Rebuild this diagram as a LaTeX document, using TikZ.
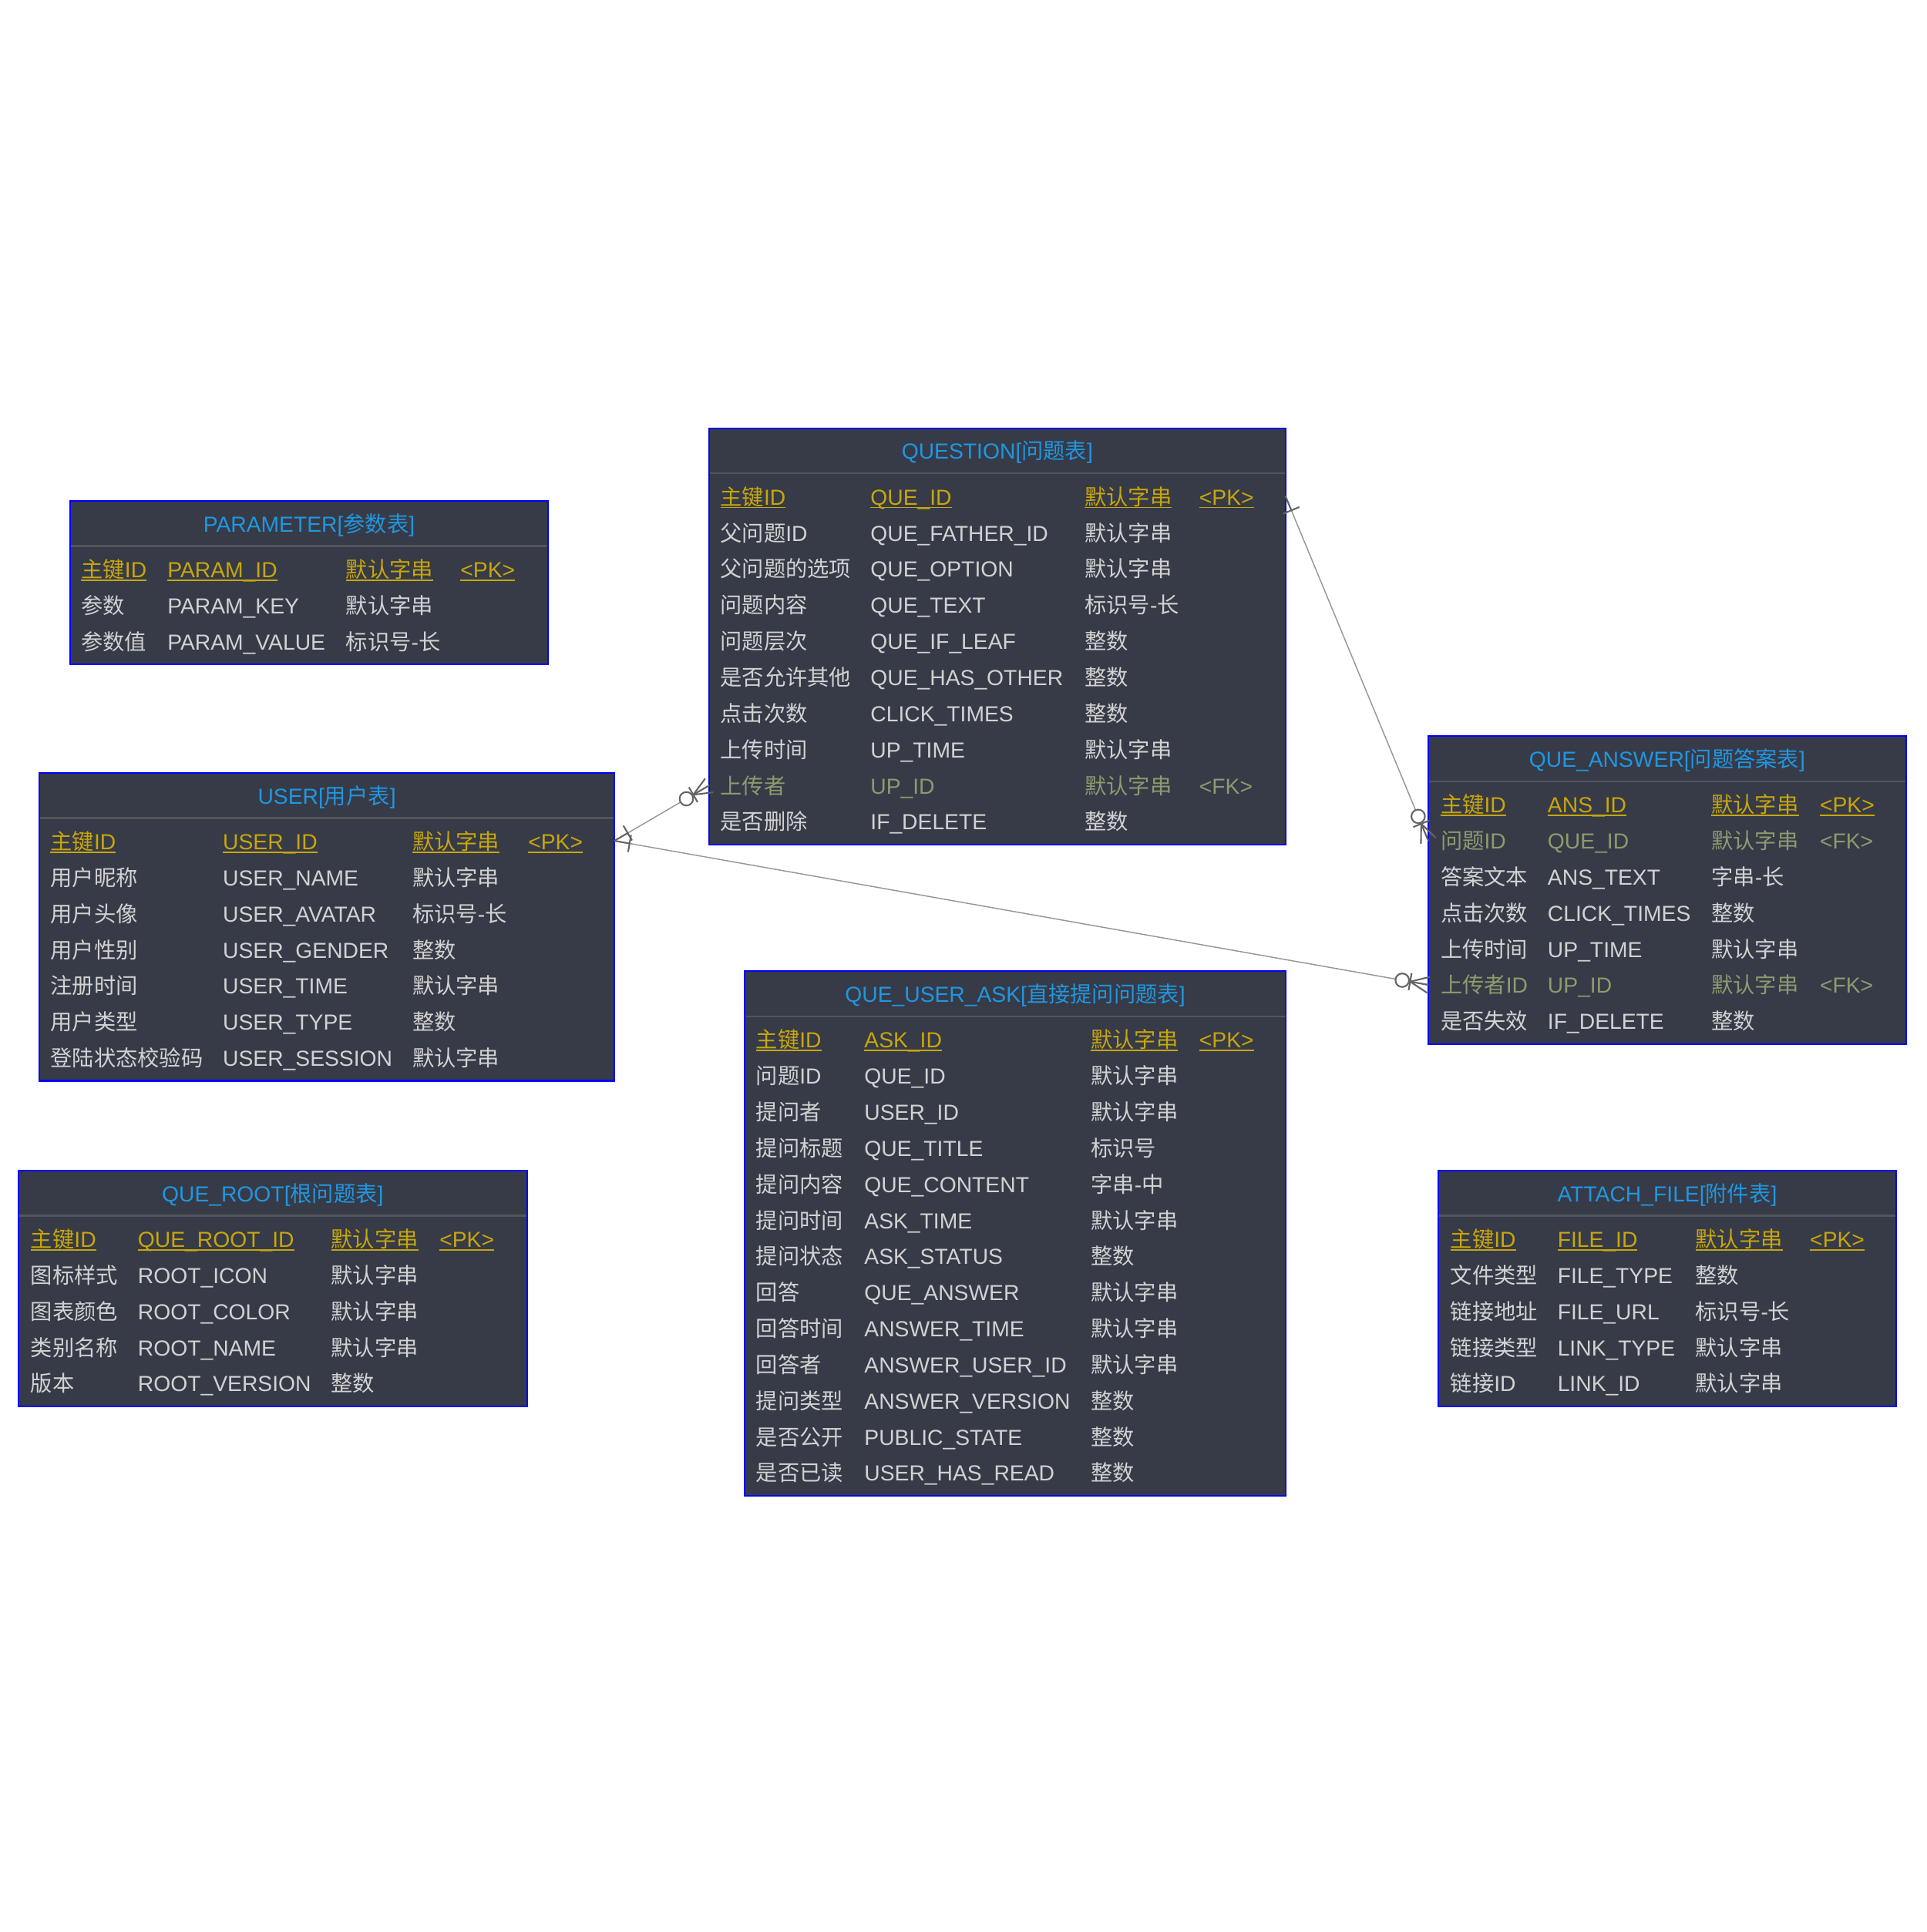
\documentclass[tikz,border=0pt]{standalone}
\usepackage{fontspec}
\setmainfont{Liberation Sans}
\newfontfamily\cjkfont{Noto Sans CJK SC}
\newcommand\zh[1]{{\cjkfont #1}}
\usetikzlibrary{calc}

\definecolor{tblbg}{RGB}{54,59,71}
\definecolor{tblborder}{RGB}{0,0,255}
\definecolor{sepgray}{RGB}{82,85,92}
\definecolor{ttlblue}{RGB}{33,150,225}
\definecolor{pkgold}{RGB}{200,166,12}
\definecolor{fkolive}{RGB}{142,154,110}
\definecolor{celltext}{RGB}{210,210,210}
\definecolor{conngray}{RGB}{150,150,150}
\definecolor{markgray}{RGB}{100,100,100}

\tikzset{
  tblbox/.style={draw=tblborder, fill=tblbg, line width=1.3pt, inner sep=0pt, outer sep=0pt, rectangle},
  sepline/.style={draw=sepgray, line width=1.3pt},
  cell/.style={inner sep=0pt, outer sep=0pt, font=\fontsize{17.7}{20}\selectfont, text=celltext, anchor=base west},
  pkcell/.style={cell, text=pkgold},
  fkcell/.style={cell, text=fkolive},
  ttl/.style={inner sep=0pt, outer sep=0pt, font=\fontsize{17.7}{20}\selectfont, text=ttlblue, anchor=base},
  pkline/.style={draw=pkgold, line width=1.2pt},
  conn/.style={draw=conngray, line width=0.9pt},
  ermark/.style={draw=markgray, line width=1.3pt},
}

\newcommand\ertable[6]{%
  \pgfmathsetmacro\tblh{74+(#5-1)*29.33}%
  \node[tblbox, minimum width=#3-#2, minimum height=\tblh, anchor=north west] (#1) at (#2,#4) {};
  \draw[sepline] ([xshift=0.7pt,yshift=-36.5pt]#1.north west) -- ([xshift=-0.7pt,yshift=-36.5pt]#1.north east);
  \node[ttl] (#1-title) at ({(#2+#3)/2},#4+25) {#6};
  \gdef\curtop{#4}\gdef\currow{0}\gdef\curname{#1}%
}
\newcommand\setcols[4]{\gdef\ca{#1}\gdef\cb{#2}\gdef\cc{#3}\gdef\cd{#4}}
\newcommand\errow[5][cell]{%
  \pgfmathsetmacro\rowy{\curtop+62.2+\currow*29.33}%
  \pgfmathtruncatemacro\rownum{\currow+1}%
  \xdef\currow{\rownum}%
  \node[#1] (\curname-\currow-a) at (\ca,\rowy) {#2};
  \node[#1] (\curname-\currow-b) at (\cb,\rowy) {#3};
  \node[#1] (\curname-\currow-c) at (\cc,\rowy) {#4};
  \def\tmpcell{#5}\ifx\tmpcell\empty\else\node[#1] (\curname-\currow-d) at (\cd,\rowy) {#5};\fi
}
\newcommand\ul[1]{\draw[pkline] ([yshift=-2pt]#1.base west) -- ([yshift=-2pt]#1.base east);}
\newcommand\pkrow[4]{\errow[pkcell]{#1}{#2}{#3}{#4}%
  \ul{\curname-\currow-a}\ul{\curname-\currow-b}\ul{\curname-\currow-c}\ul{\curname-\currow-d}}
\newcommand\fkrow[4]{\errow[fkcell]{#1}{#2}{#3}{#4}}

\newcommand\erone[3]{%
  \coordinate (#3-p) at ($(#1)!12.5pt!(#2)$);
  \draw[ermark] (#1) -- (#3-p);
  \draw[ermark] ($(#3-p)!7pt!90:(#2)$) -- ($(#3-p)!7pt!-90:(#2)$);
}
\newcommand\erzeromany[3]{%
  \coordinate (#3-p) at ($(#1)!15pt!(#2)$);
  \coordinate (#3-o) at ($(#1)!21.5pt!(#2)$);
  \draw[ermark] (#3-p) -- (#1);
  \draw[ermark] (#3-p) -- ($(#1)!6.5pt!90:(#2)$);
  \draw[ermark] (#3-p) -- ($(#1)!6.5pt!-90:(#2)$);
  \draw[ermark] ($(#3-p)!7pt!90:(#2)$) -- ($(#3-p)!7pt!-90:(#2)$);
  \draw[ermark, fill=white] (#3-o) circle[radius=5.5pt];
}

\begin{document}
\begin{tikzpicture}[x=1pt,y=-1pt]
\fill[white] (0,0) rectangle (1565,1569.4);
\useasboundingbox (0,0) rectangle (1565,1569.4);

% PARAMETER
\ertable{param}{57}{445}{407}{3}{PARAMETER[\zh{参数表}]}
\setcols{66}{136}{281}{374}
\pkrow{\zh{主键}ID}{PARAM\_ID}{\zh{默认字串}}{<PK>}
\errow{\zh{参数}}{PARAM\_KEY}{\zh{默认字串}}{}
\errow{\zh{参数值}}{PARAM\_VALUE}{\zh{标识号}-\zh{长}}{}

% USER
\ertable{user}{32}{499}{628}{7}{USER[\zh{用户表}]}
\setcols{41}{181}{335}{429}
\pkrow{\zh{主键}ID}{USER\_ID}{\zh{默认字串}}{<PK>}
\errow{\zh{用户昵称}}{USER\_NAME}{\zh{默认字串}}{}
\errow{\zh{用户头像}}{USER\_AVATAR}{\zh{标识号}-\zh{长}}{}
\errow{\zh{用户性别}}{USER\_GENDER}{\zh{整数}}{}
\errow{\zh{注册时间}}{USER\_TIME}{\zh{默认字串}}{}
\errow{\zh{用户类型}}{USER\_TYPE}{\zh{整数}}{}
\errow{\zh{登陆状态校验码}}{USER\_SESSION}{\zh{默认字串}}{}

% QUE_ROOT
\ertable{root}{15}{428}{951}{5}{QUE\_ROOT[\zh{根问题表}]}
\setcols{25}{112}{269}{357}
\pkrow{\zh{主键}ID}{QUE\_ROOT\_ID}{\zh{默认字串}}{<PK>}
\errow{\zh{图标样式}}{ROOT\_ICON}{\zh{默认字串}}{}
\errow{\zh{图表颜色}}{ROOT\_COLOR}{\zh{默认字串}}{}
\errow{\zh{类别名称}}{ROOT\_NAME}{\zh{默认字串}}{}
\errow{\zh{版本}}{ROOT\_VERSION}{\zh{整数}}{}

% QUESTION
\ertable{question}{576}{1044}{348}{10}{QUESTION[\zh{问题表}]}
\setcols{585}{707}{881}{974}
\pkrow{\zh{主键}ID}{QUE\_ID}{\zh{默认字串}}{<PK>}
\errow{\zh{父问题}ID}{QUE\_FATHER\_ID}{\zh{默认字串}}{}
\errow{\zh{父问题的选项}}{QUE\_OPTION}{\zh{默认字串}}{}
\errow{\zh{问题内容}}{QUE\_TEXT}{\zh{标识号}-\zh{长}}{}
\errow{\zh{问题层次}}{QUE\_IF\_LEAF}{\zh{整数}}{}
\errow{\zh{是否允许其他}}{QUE\_HAS\_OTHER}{\zh{整数}}{}
\errow{\zh{点击次数}}{CLICK\_TIMES}{\zh{整数}}{}
\errow{\zh{上传时间}}{UP\_TIME}{\zh{默认字串}}{}
\fkrow{\zh{上传者}}{UP\_ID}{\zh{默认字串}}{<FK>}
\errow{\zh{是否删除}}{IF\_DELETE}{\zh{整数}}{}

% QUE_USER_ASK
\ertable{ask}{605}{1044}{789}{13}{QUE\_USER\_ASK[\zh{直接提问问题表}]}
\setcols{614}{702}{886}{974}
\pkrow{\zh{主键}ID}{ASK\_ID}{\zh{默认字串}}{<PK>}
\errow{\zh{问题}ID}{QUE\_ID}{\zh{默认字串}}{}
\errow{\zh{提问者}}{USER\_ID}{\zh{默认字串}}{}
\errow{\zh{提问标题}}{QUE\_TITLE}{\zh{标识号}}{}
\errow{\zh{提问内容}}{QUE\_CONTENT}{\zh{字串}-\zh{中}}{}
\errow{\zh{提问时间}}{ASK\_TIME}{\zh{默认字串}}{}
\errow{\zh{提问状态}}{ASK\_STATUS}{\zh{整数}}{}
\errow{\zh{回答}}{QUE\_ANSWER}{\zh{默认字串}}{}
\errow{\zh{回答时间}}{ANSWER\_TIME}{\zh{默认字串}}{}
\errow{\zh{回答者}}{ANSWER\_USER\_ID}{\zh{默认字串}}{}
\errow{\zh{提问类型}}{ANSWER\_VERSION}{\zh{整数}}{}
\errow{\zh{是否公开}}{PUBLIC\_STATE}{\zh{整数}}{}
\errow{\zh{是否已读}}{USER\_HAS\_READ}{\zh{整数}}{}

% QUE_ANSWER
\ertable{answer}{1160}{1548}{598}{7}{QUE\_ANSWER[\zh{问题答案表}]}
\setcols{1170}{1257}{1390}{1478}
\pkrow{\zh{主键}ID}{ANS\_ID}{\zh{默认字串}}{<PK>}
\fkrow{\zh{问题}ID}{QUE\_ID}{\zh{默认字串}}{<FK>}
\errow{\zh{答案文本}}{ANS\_TEXT}{\zh{字串}-\zh{长}}{}
\errow{\zh{点击次数}}{CLICK\_TIMES}{\zh{整数}}{}
\errow{\zh{上传时间}}{UP\_TIME}{\zh{默认字串}}{}
\fkrow{\zh{上传者}ID}{UP\_ID}{\zh{默认字串}}{<FK>}
\errow{\zh{是否失效}}{IF\_DELETE}{\zh{整数}}{}

% ATTACH_FILE
\ertable{attach}{1168}{1540}{951}{5}{ATTACH\_FILE[\zh{附件表}]}
\setcols{1178}{1265}{1377}{1470}
\pkrow{\zh{主键}ID}{FILE\_ID}{\zh{默认字串}}{<PK>}
\errow{\zh{文件类型}}{FILE\_TYPE}{\zh{整数}}{}
\errow{\zh{链接地址}}{FILE\_URL}{\zh{标识号}-\zh{长}}{}
\errow{\zh{链接类型}}{LINK\_TYPE}{\zh{默认字串}}{}
\errow{\zh{链接}ID}{LINK\_ID}{\zh{默认字串}}{}

% connectors
\coordinate (qpk) at (question.east |- 0,403);
\coordinate (aque) at (answer.west |- 0,683);
\coordinate (upk) at (user.east |- 0,683);
\coordinate (qup) at (question.west |- 0,638);
\coordinate (aup) at (answer.west |- 0,800);

\draw[conn] (qpk) -- (aque);
\draw[conn] (upk) -- (qup);
\draw[conn] (upk) -- (aup);

\erone{qpk}{aque}{m1}
\erzeromany{aque}{qpk}{m2}
\erone{upk}{qup}{m3}
\erzeromany{qup}{upk}{m4}
\erone{upk}{aup}{m5}
\erzeromany{aup}{upk}{m6}
\end{tikzpicture}
\end{document}
